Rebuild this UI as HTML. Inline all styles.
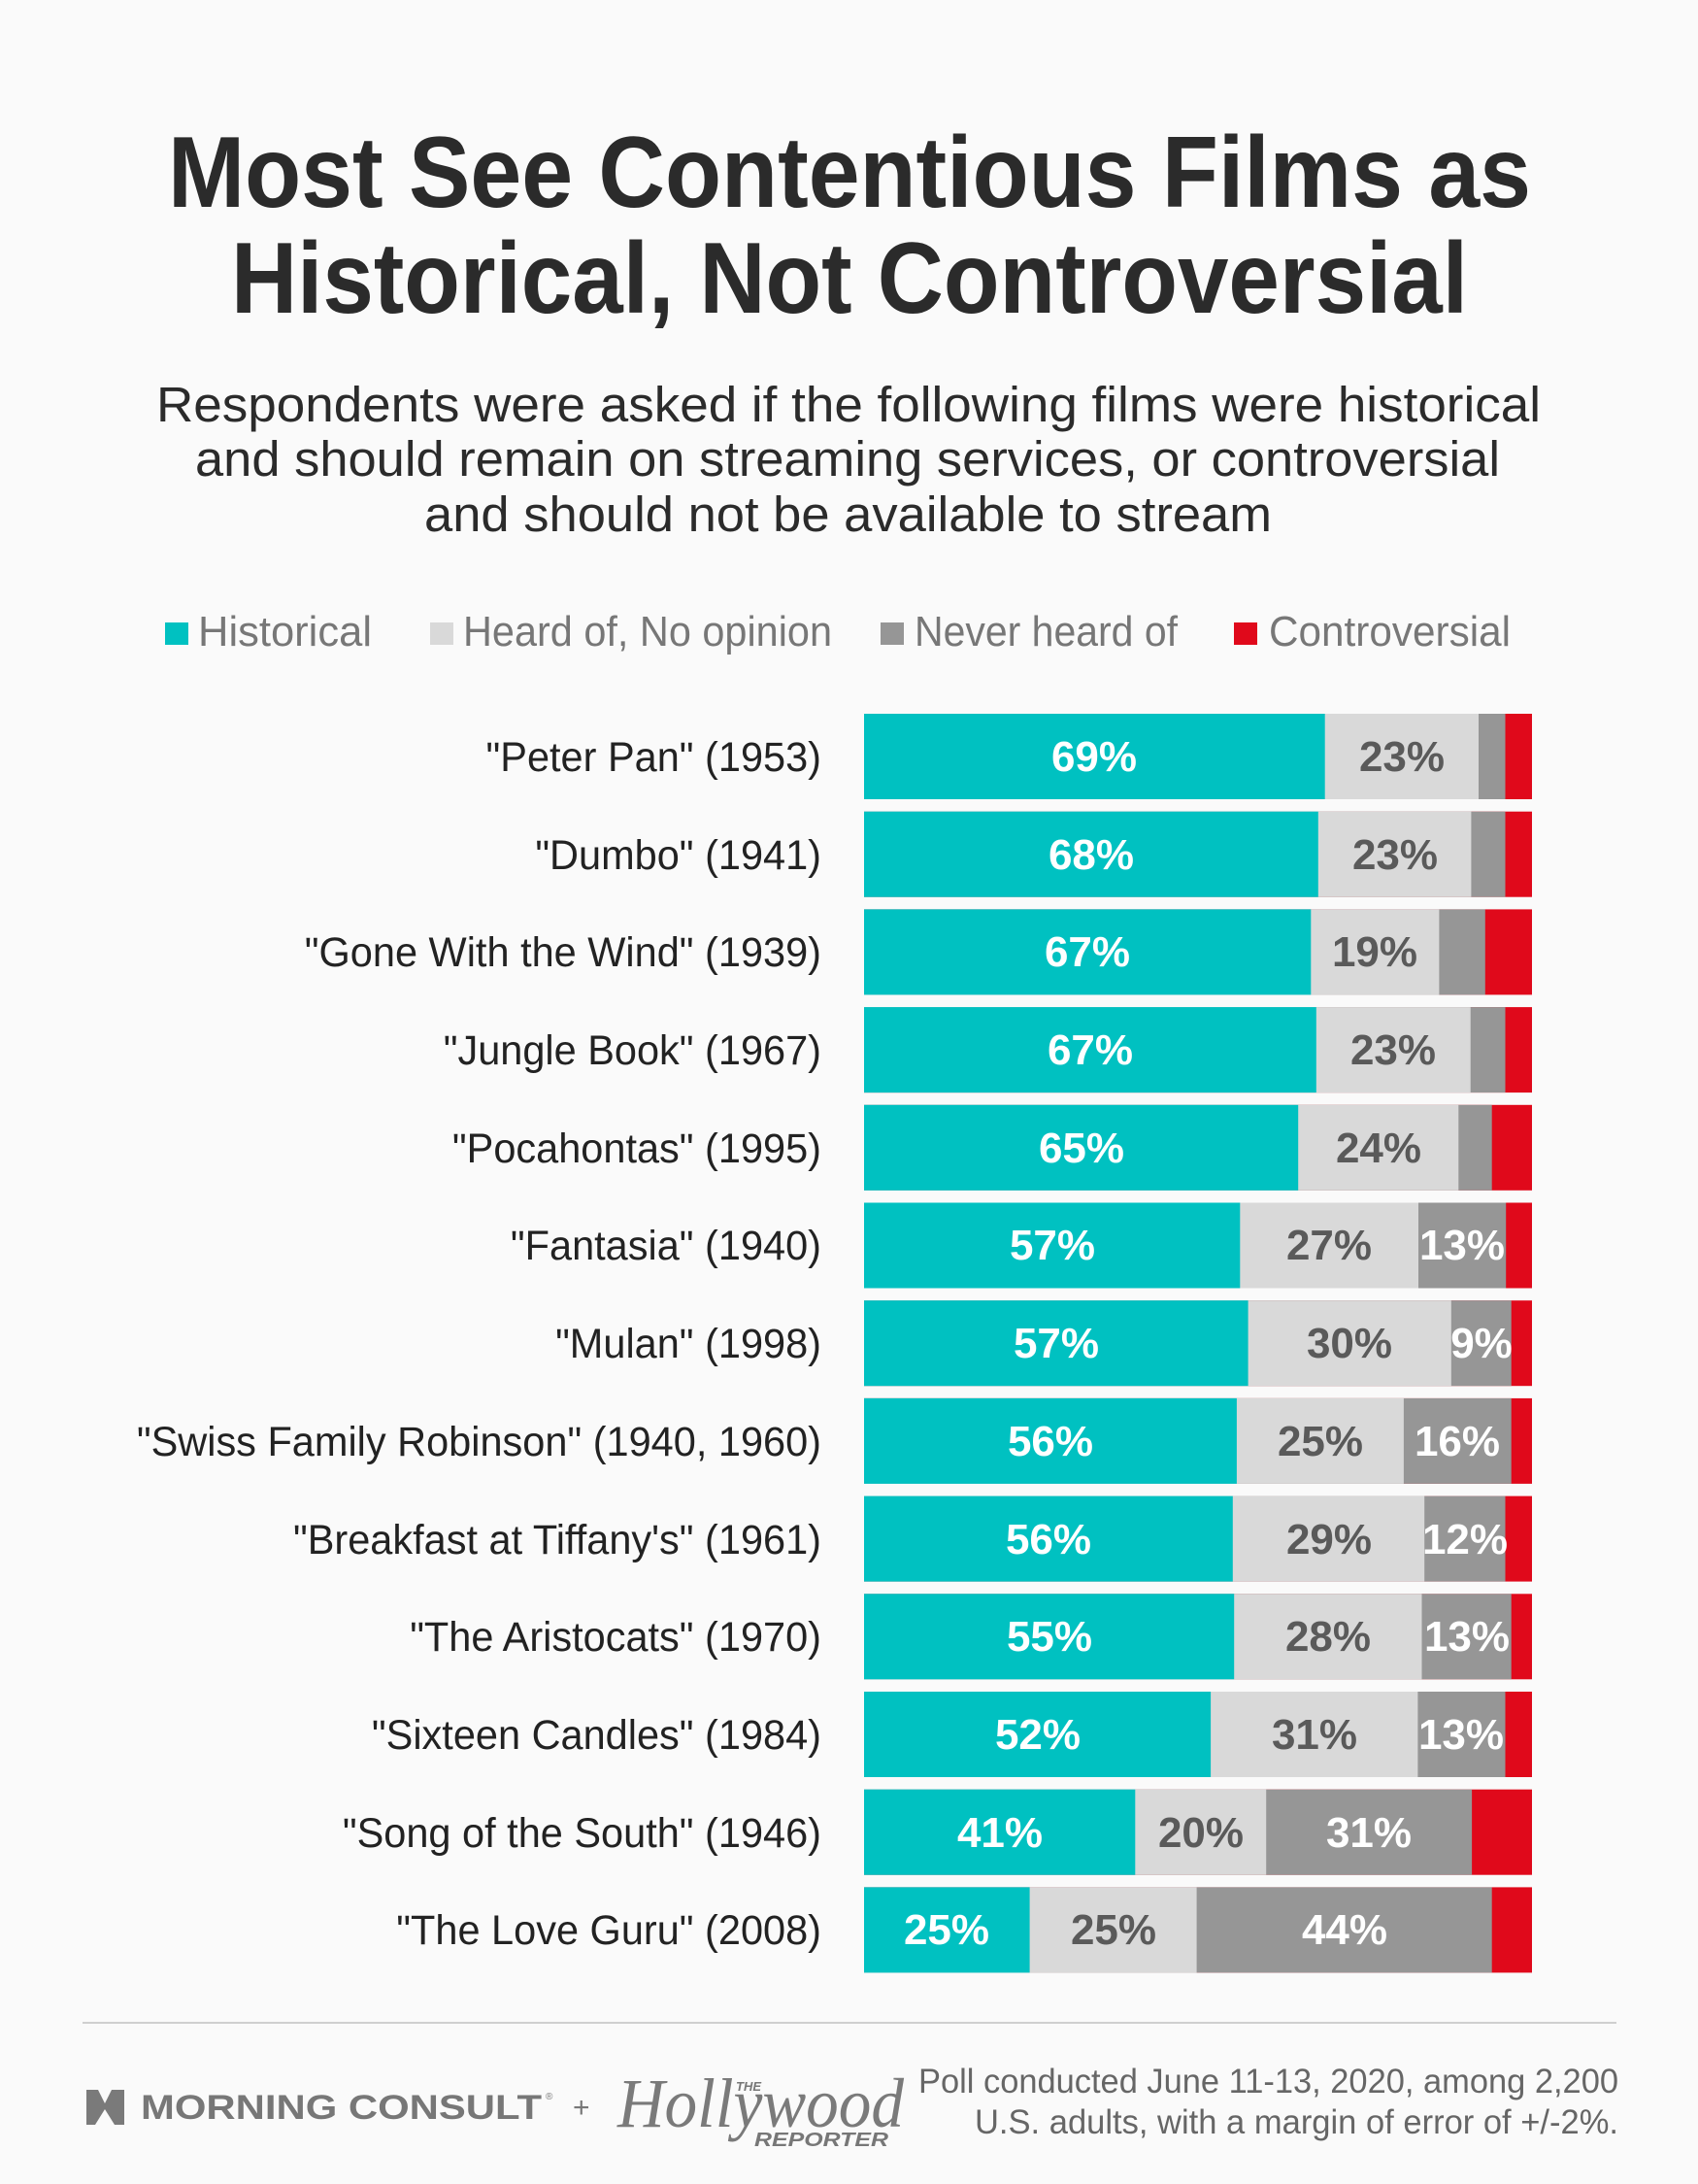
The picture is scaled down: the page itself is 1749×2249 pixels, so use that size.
<!DOCTYPE html>
<html><head><meta charset="utf-8"><style>
html,body{margin:0;padding:0;background:#fafafa;}
svg{display:block;}
</style></head><body>
<svg width="1749" height="2249" viewBox="0 0 1749 2249" xmlns="http://www.w3.org/2000/svg" font-family="'Liberation Sans', Arial, sans-serif">
<rect width="1749" height="2249" fill="#fafafa"/>
<g fill="#2b2b2b" font-weight="bold" font-size="104">
<text x="173" y="213" textLength="1404" lengthAdjust="spacingAndGlyphs">Most See Contentious Films as</text>
<text x="238" y="322" textLength="1274" lengthAdjust="spacingAndGlyphs">Historical, Not Controversial</text>
</g>
<g fill="#2b2b2b" font-size="51">
<text x="161" y="434" textLength="1426" lengthAdjust="spacingAndGlyphs">Respondents were asked if the following films were historical</text>
<text x="201" y="490" textLength="1344" lengthAdjust="spacingAndGlyphs">and should remain on streaming services, or controversial</text>
<text x="437" y="547" textLength="873" lengthAdjust="spacingAndGlyphs">and should not be available to stream</text>
</g>
<g font-size="44" fill="#777">
<rect x="170" y="641" width="24" height="23" fill="#00c1c1"/>
<text x="204" y="665" textLength="179" lengthAdjust="spacingAndGlyphs">Historical</text>
<rect x="443" y="641" width="24" height="23" fill="#d9d9d9"/>
<text x="477" y="665" textLength="380" lengthAdjust="spacingAndGlyphs">Heard of, No opinion</text>
<rect x="907" y="641" width="24" height="23" fill="#969696"/>
<text x="942" y="665" textLength="271" lengthAdjust="spacingAndGlyphs">Never heard of</text>
<rect x="1271" y="641" width="24" height="23" fill="#e0091b"/>
<text x="1307" y="665" textLength="249" lengthAdjust="spacingAndGlyphs">Controversial</text>
</g>
<g>
<rect x="890" y="735" width="688" height="88" fill="#e0091b"/><rect x="890" y="735" width="660.5" height="88" fill="#969696"/><rect x="890" y="735" width="633" height="88" fill="#d9d9d9"/><rect x="890" y="735" width="474.7" height="88" fill="#00c1c1"/>
<rect x="890" y="835.7" width="688" height="88" fill="#e0091b"/><rect x="890" y="835.7" width="660.5" height="88" fill="#969696"/><rect x="890" y="835.7" width="625.4" height="88" fill="#d9d9d9"/><rect x="890" y="835.7" width="467.8" height="88" fill="#00c1c1"/>
<rect x="890" y="936.4" width="688" height="88" fill="#e0091b"/><rect x="890" y="936.4" width="639.8" height="88" fill="#969696"/><rect x="890" y="936.4" width="592.4" height="88" fill="#d9d9d9"/><rect x="890" y="936.4" width="460.3" height="88" fill="#00c1c1"/>
<rect x="890" y="1037.1" width="688" height="88" fill="#e0091b"/><rect x="890" y="1037.1" width="660.5" height="88" fill="#969696"/><rect x="890" y="1037.1" width="624.7" height="88" fill="#d9d9d9"/><rect x="890" y="1037.1" width="465.8" height="88" fill="#00c1c1"/>
<rect x="890" y="1137.8" width="688" height="88" fill="#e0091b"/><rect x="890" y="1137.8" width="646.7" height="88" fill="#969696"/><rect x="890" y="1137.8" width="612.3" height="88" fill="#d9d9d9"/><rect x="890" y="1137.8" width="447.2" height="88" fill="#00c1c1"/>
<rect x="890" y="1238.5" width="688" height="88" fill="#e0091b"/><rect x="890" y="1238.5" width="661.2" height="88" fill="#969696"/><rect x="890" y="1238.5" width="571" height="88" fill="#d9d9d9"/><rect x="890" y="1238.5" width="387.3" height="88" fill="#00c1c1"/>
<rect x="890" y="1339.2" width="688" height="88" fill="#e0091b"/><rect x="890" y="1339.2" width="666.7" height="88" fill="#969696"/><rect x="890" y="1339.2" width="604.8" height="88" fill="#d9d9d9"/><rect x="890" y="1339.2" width="395.6" height="88" fill="#00c1c1"/>
<rect x="890" y="1439.9" width="688" height="88" fill="#e0091b"/><rect x="890" y="1439.9" width="666.7" height="88" fill="#969696"/><rect x="890" y="1439.9" width="555.9" height="88" fill="#d9d9d9"/><rect x="890" y="1439.9" width="383.9" height="88" fill="#00c1c1"/>
<rect x="890" y="1540.6" width="688" height="88" fill="#e0091b"/><rect x="890" y="1540.6" width="660.5" height="88" fill="#969696"/><rect x="890" y="1540.6" width="577.2" height="88" fill="#d9d9d9"/><rect x="890" y="1540.6" width="379.8" height="88" fill="#00c1c1"/>
<rect x="890" y="1641.3" width="688" height="88" fill="#e0091b"/><rect x="890" y="1641.3" width="666.7" height="88" fill="#969696"/><rect x="890" y="1641.3" width="574.5" height="88" fill="#d9d9d9"/><rect x="890" y="1641.3" width="381.2" height="88" fill="#00c1c1"/>
<rect x="890" y="1742" width="688" height="88" fill="#e0091b"/><rect x="890" y="1742" width="660.5" height="88" fill="#969696"/><rect x="890" y="1742" width="570.4" height="88" fill="#d9d9d9"/><rect x="890" y="1742" width="357.1" height="88" fill="#00c1c1"/>
<rect x="890" y="1842.7" width="688" height="88" fill="#e0091b"/><rect x="890" y="1842.7" width="626.1" height="88" fill="#969696"/><rect x="890" y="1842.7" width="414.2" height="88" fill="#d9d9d9"/><rect x="890" y="1842.7" width="279.3" height="88" fill="#00c1c1"/>
<rect x="890" y="1943.4" width="688" height="88" fill="#e0091b"/><rect x="890" y="1943.4" width="646.7" height="88" fill="#969696"/><rect x="890" y="1943.4" width="342.6" height="88" fill="#d9d9d9"/><rect x="890" y="1943.4" width="170.6" height="88" fill="#00c1c1"/>
</g>
<g font-weight="bold" font-size="44" text-anchor="middle">
<g fill="#fff">
<text x="1127" y="794">69%</text><text x="1124" y="895">68%</text><text x="1120" y="995">67%</text><text x="1123" y="1096">67%</text><text x="1114" y="1197">65%</text>
<text x="1084" y="1297">57%</text><text x="1088" y="1398">57%</text><text x="1082" y="1499">56%</text><text x="1080" y="1600">56%</text><text x="1081" y="1700">55%</text><text x="1069" y="1801">52%</text><text x="1030" y="1902">41%</text><text x="975" y="2002">25%</text>
<text x="1506" y="1297">13%</text><text x="1526" y="1398">9%</text><text x="1501" y="1499">16%</text><text x="1509" y="1600">12%</text><text x="1511" y="1700">13%</text><text x="1505" y="1801">13%</text><text x="1410" y="1902">31%</text><text x="1385" y="2002">44%</text>
</g>
<g fill="#5a5a5a">
<text x="1444" y="794">23%</text><text x="1437" y="895">23%</text><text x="1416" y="995">19%</text><text x="1435" y="1096">23%</text><text x="1420" y="1197">24%</text>
<text x="1369" y="1297">27%</text><text x="1390" y="1398">30%</text><text x="1360" y="1499">25%</text><text x="1369" y="1600">29%</text><text x="1368" y="1700">28%</text><text x="1354" y="1801">31%</text><text x="1237" y="1902">20%</text><text x="1147" y="2002">25%</text>
</g>
</g>
<g transform="translate(846,0) scale(0.965,1)" font-size="43" fill="#222" text-anchor="end">
<text x="0" y="794">"Peter Pan" (1953)</text>
<text x="0" y="895">"Dumbo" (1941)</text>
<text x="0" y="995">"Gone With the Wind" (1939)</text>
<text x="0" y="1096">"Jungle Book" (1967)</text>
<text x="0" y="1197">"Pocahontas" (1995)</text>
<text x="0" y="1297">"Fantasia" (1940)</text>
<text x="0" y="1398">"Mulan" (1998)</text>
<text x="0" y="1499">"Swiss Family Robinson" (1940, 1960)</text>
<text x="0" y="1600">"Breakfast at Tiffany's" (1961)</text>
<text x="0" y="1700">"The Aristocats" (1970)</text>
<text x="0" y="1801">"Sixteen Candles" (1984)</text>
<text x="0" y="1902">"Song of the South" (1946)</text>
<text x="0" y="2002">"The Love Guru" (2008)</text>
</g>
<rect x="85" y="2082" width="1580" height="2" fill="#cfcfcf"/>
<g fill="#777">
<path d="M89 2152 L101 2152 L108 2166 L115 2152 L128 2152 L128 2188 L118 2188 L108 2172 L98 2188 L89 2188 Z" fill="#7a7a7a"/>
<text x="145" y="2182" font-size="35" font-weight="bold" textLength="413" lengthAdjust="spacingAndGlyphs">MORNING CONSULT</text>
<text x="562" y="2162" font-size="10">®</text>
<text x="590" y="2180" font-size="30">+</text>
<text x="636" y="2190" font-family="'Liberation Serif', serif" font-style="italic" font-size="72" textLength="295" lengthAdjust="spacingAndGlyphs" fill="#7a7a7a">Hollywood</text>
<text x="758" y="2153" font-size="13" font-weight="bold" font-style="italic">THE</text>
<text x="777" y="2210" font-size="20" font-weight="bold" font-style="italic" textLength="138" lengthAdjust="spacingAndGlyphs">REPORTER</text>
<g font-size="35" fill="#666">
<text x="946" y="2155" textLength="721" lengthAdjust="spacingAndGlyphs">Poll conducted June 11-13, 2020, among 2,200</text>
<text x="1004" y="2197" textLength="663" lengthAdjust="spacingAndGlyphs">U.S. adults, with a margin of error of +/-2%.</text>
</g>
</g>
</svg>
</body></html>
